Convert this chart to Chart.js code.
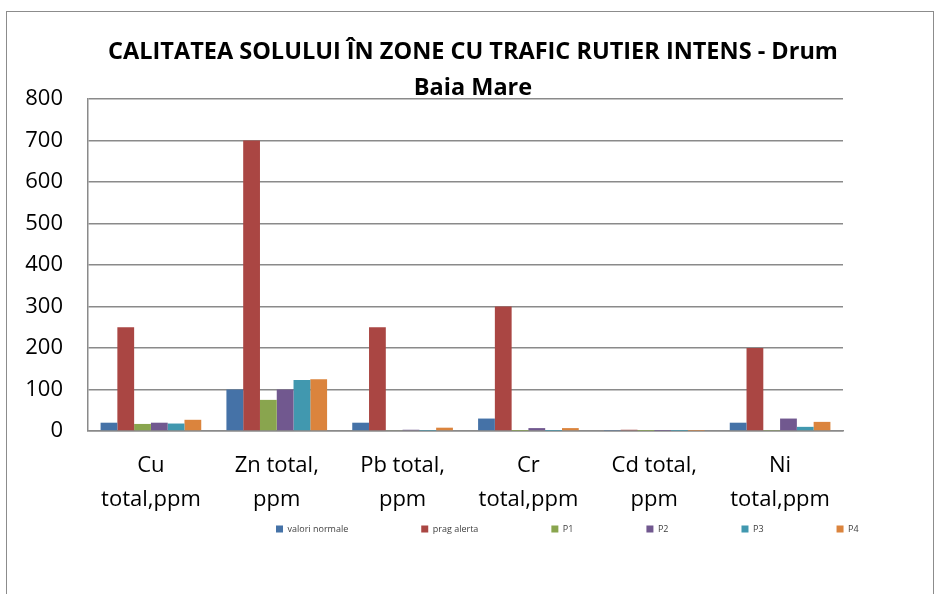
<!DOCTYPE html>
<html>
<head>
<meta charset="utf-8">
<script src="https://cdn.jsdelivr.net/npm/chart.js@4/dist/chart.umd.min.js"></script>
<style>
  html, body { margin: 0; padding: 0; background: #fff; overflow: hidden; }
  #frame { position: absolute; left: 6px; top: 11px; width: 926px; height: 620px; border: 1px solid #8c8c8c; border-bottom: none; }
  #wrap { position: absolute; left: 0; top: 0; width: 926px; height: 600px; }
</style>
</head>
<body>
<div id="frame"><div id="wrap"><canvas id="c"></canvas></div></div>
<script>
// ---- data ----
const categories = [["Cu", "total,ppm"], ["Zn total,", "ppm"], ["Pb total,", "ppm"], ["Cr", "total,ppm"], ["Cd total,", "ppm"], ["Ni", "total,ppm"]];
const seriesNames = ["valori normale", "prag alerta", "P1", "P2", "P3", "P4"];
const valoriNormale = [20, 100, 20, 30, 1, 20];
const pragAlerta    = [250, 700, 250, 300, 3, 200];
const p1 = [17, 75, 2, 0.3, 0.3, 1];
const p2 = [20, 100, 3, 7, 0.4, 30];
const p3 = [18, 123, 0.5, 0.3, 0.2, 10];
const p4 = [27, 125, 8, 7, 0.5, 22];
const yTicks = [0, 100, 200, 300, 400, 500, 600, 700, 800];
const titleLines = ["CALITATEA SOLULUI ÎN ZONE CU TRAFIC RUTIER INTENS - Drum", "Baia Mare"];

const colors = ["#4572A7", "#AA4643", "#89A54E", "#71588F", "#4198AF", "#DB843D"];
const seriesData = [valoriNormale, pragAlerta, p1, p2, p3, p4];

const placePlugin = {
  id: 'place',
  afterLayout(chart) {
    const lg = chart.legend;
    if (lg && lg.lineWidths) {
      const p = lg.options.labels.padding;
      const x0 = (lg.left + p + lg.right - lg.lineWidths[0]) / 2;
      const d = 269 - x0;
      lg.left += d; lg.right += d;
      lg.top = 517 - p - 4.5; lg.bottom = lg.top + p + 30;
    }
    const t = chart.titleBlock;
    if (t) {
      const c = (t.left + t.right) / 2;
      const dx = 466 - c;
      t.left += dx; t.right += dx;
      t.top += 13; t.bottom += 13;
    }
  }
};

new Chart(document.getElementById('c'), {
  type: 'bar',
  data: {
    labels: categories,
    datasets: seriesNames.map((n, i) => ({
      label: n,
      data: seriesData[i],
      backgroundColor: colors[i],
      borderWidth: 0,
      categoryPercentage: 0.8,
      barPercentage: 1.0
    }))
  },
  options: {
    responsive: true,
    maintainAspectRatio: false,
    animation: false,
    layout: { padding: { left: 18, right: 90, top: 0, bottom: 75 } },
    plugins: {
      title: {
        display: true,
        text: titleLines,
        color: '#000',
        font: { family: 'Open Sans', size: 23.5, weight: 'bold', lineHeight: 36 / 23.5 },
        padding: { top: 9, bottom: 6 }
      },
      legend: {
        position: 'bottom',
        maxHeight: 20,
        labels: {
          boxWidth: 7, boxHeight: 7, padding: 73,
          color: '#404040',
          font: { family: 'Open Sans', size: 9 }
        }
      },
      tooltip: { enabled: false }
    },
    scales: {
      x: {
        grid: { display: false, drawTicks: false },
        border: { display: true, color: '#8a8a8a', width: 1.5 },
        ticks: {
          color: '#000', padding: 18, maxRotation: 0, autoSkip: false,
          font: { family: 'Open Sans', size: 22, lineHeight: 34 / 22 }
        },
        afterFit(s) { s.height = 86; }
      },
      y: {
        min: 0, max: 800,
        afterBuildTicks(s) { s.ticks = yTicks.map(v => ({ value: v })); },
        grid: { color: '#8a8a8a', lineWidth: 1.5, drawTicks: false },
        border: { display: true, color: '#8a8a8a', width: 1.5 },
        ticks: {
          color: '#000', padding: 25,
          font: { family: 'Open Sans', size: 22 }
        },
        afterFit(s) { s.width = 63; }
      }
    }
  },
  plugins: [placePlugin]
});
</script>
</body>
</html>
